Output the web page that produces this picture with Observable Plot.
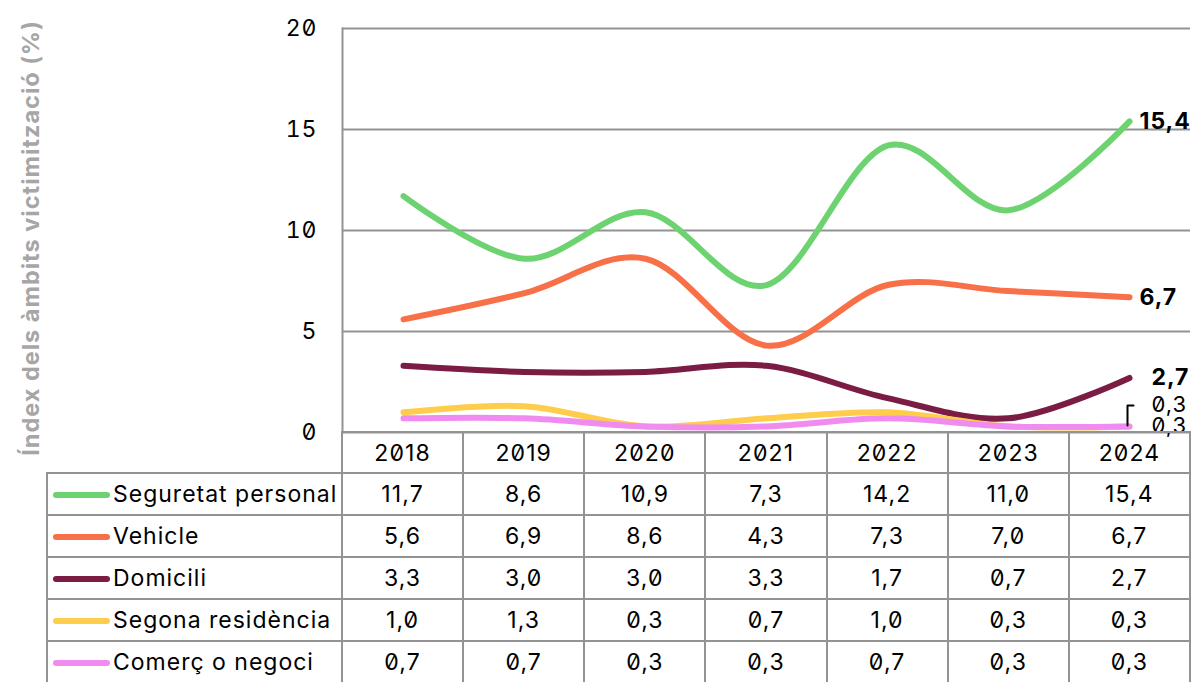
<!DOCTYPE html>
<html><head><meta charset="utf-8">
<script src="https://cdn.jsdelivr.net/npm/d3@7"></script>
<script src="https://cdn.jsdelivr.net/npm/@observablehq/plot@0.6"></script>
<style>
body{margin:0;background:#fff;}
#wrap{position:relative;width:1196px;height:682px;overflow:hidden;font-family:Inter,"Noto Sans",sans-serif;font-feature-settings:"zero" 1;color:#000;}
#chart{position:absolute;left:0;top:0;}
#chart svg{overflow:visible;}
#chart svg text{letter-spacing:1px;}
#ytitle{position:absolute;left:30px;top:238px;transform:translate(-50%,-50%) rotate(-90deg);white-space:nowrap;font-weight:bold;font-size:23.5px;letter-spacing:1px;color:#a6a6a6;}
table{position:absolute;left:46px;top:431px;border-collapse:collapse;table-layout:fixed;font-size:23px;letter-spacing:1.1px;}
td{border:2px solid #939393;text-align:center;padding:0;height:40px;}
tr.head td{height:39px;}
td.blank{border-top:none;border-left:none;}
td.leg{text-align:left;padding-left:5px;white-space:nowrap;letter-spacing:1px;}
.sw{display:inline-block;width:57px;height:6px;border-radius:3px;vertical-align:middle;margin-right:3px;position:relative;top:-1px;}
</style></head>
<body><div id="wrap"><div id="chart"></div><div id="ytitle"></div><table id="tbl"></table></div>
<script>
const years = ["2018","2019","2020","2021","2022","2023","2024"];
const series = ["Seguretat personal","Vehicle","Domicili","Segona residència","Comerç o negoci"];
const seguretat = [11.7, 8.6, 10.9, 7.3, 14.2, 11.0, 15.4];
const vehicle   = [5.6, 6.9, 8.6, 4.3, 7.3, 7.0, 6.7];
const domicili  = [3.3, 3.0, 3.0, 3.3, 1.7, 0.7, 2.7];
const segona    = [1.0, 1.3, 0.3, 0.7, 1.0, 0.3, 0.3];
const comerc    = [0.7, 0.7, 0.3, 0.3, 0.7, 0.3, 0.3];
const colors = ["#6dd270", "#f87048", "#7b1c45", "#ffcd4c", "#f08cf0"];
const yTicks = [0, 5, 10, 15, 20];
const yTitle = "Índex dels àmbits victimització (%)";

const values = [seguretat, vehicle, domicili, segona, comerc];
const fmt = v => v.toFixed(1).replace(".", ",");
const data = series.flatMap((s, i) => years.map((y, j) => ({series: s, year: y, value: values[i][j]})));
const last = series.map((s, i) => ({series: s, year: years[years.length - 1], value: values[i][years.length - 1], label: fmt(values[i][years.length - 1])}));

const font = "Inter, 'Noto Sans', sans-serif";
const chart = Plot.plot({
  width: 1196, height: 440,
  marginLeft: 342, marginRight: 6, marginTop: 28, marginBottom: 8,
  style: {fontFamily: font, fontSize: "23px", color: "#000", background: "transparent"},
  x: {type: "point", domain: years, padding: 0.5, axis: null},
  y: {domain: [0, 20], axis: null},
  color: {domain: series, range: colors},
  marks: [
    Plot.gridY(yTicks, {stroke: "#939393", strokeOpacity: 1, strokeWidth: 2}),
    Plot.frame({anchor: "left", stroke: "#939393", strokeWidth: 2}),
    Plot.axisY(yTicks, {tickSize: 0, tickPadding: 25, fontSize: 23, fill: "#000", label: null, tickFormat: d => String(d)}),
    Plot.line(data, {x: "year", y: "value", z: "series", stroke: "series", curve: "cardinal", strokeWidth: 6, strokeLinecap: "round", strokeLinejoin: "round"}),
    Plot.text(last.slice(0, 2), {x: "year", y: "value", text: "label", textAnchor: "start", dx: 10, fontWeight: "bold", fontSize: 23, fill: "#000"}),
    Plot.text(last.slice(2, 3), {x: "year", y: "value", text: "label", textAnchor: "start", dx: 22, fontWeight: "bold", fontSize: 23, fill: "#000"}),
    Plot.text(last.slice(3, 4), {x: "year", y: "value", text: "label", textAnchor: "start", dx: 22, dy: -21, fontSize: 22, fill: "#000"}),
    Plot.text(last.slice(4, 5), {x: "year", y: "value", text: "label", textAnchor: "start", dx: 22, dy: 0, fontSize: 22, fill: "#000"}),
    Plot.vector(last.slice(3, 4), {x: "year", y: "value", length: 20, rotate: 0, anchor: "start", dx: -2, dy: -1, stroke: "#000", strokeWidth: 2,
      shape: {draw(ctx, l) { ctx.moveTo(0, 0); ctx.lineTo(0, -l); ctx.lineTo(6, -l); }}})
  ]
});
document.getElementById("chart").append(chart);
document.getElementById("ytitle").textContent = yTitle;

// data table below the chart
const tbl = document.getElementById("tbl");
const cg = document.createElement("colgroup");
[295, ...years.map(() => 848 / years.length)].forEach(w => { const c = document.createElement("col"); c.style.width = w + "px"; cg.append(c); });
tbl.append(cg);
const hr = document.createElement("tr"); hr.className = "head";
const b = document.createElement("td"); b.className = "blank"; hr.append(b);
years.forEach(y => { const td = document.createElement("td"); td.textContent = y; hr.append(td); });
tbl.append(hr);
series.forEach((s, i) => {
  const tr = document.createElement("tr");
  const lg = document.createElement("td"); lg.className = "leg";
  const sw = document.createElement("span"); sw.className = "sw"; sw.style.background = colors[i];
  lg.append(sw, document.createTextNode(s)); tr.append(lg);
  values[i].forEach(v => { const td = document.createElement("td"); td.textContent = fmt(v); tr.append(td); });
  tbl.append(tr);
});
</script></body></html>
